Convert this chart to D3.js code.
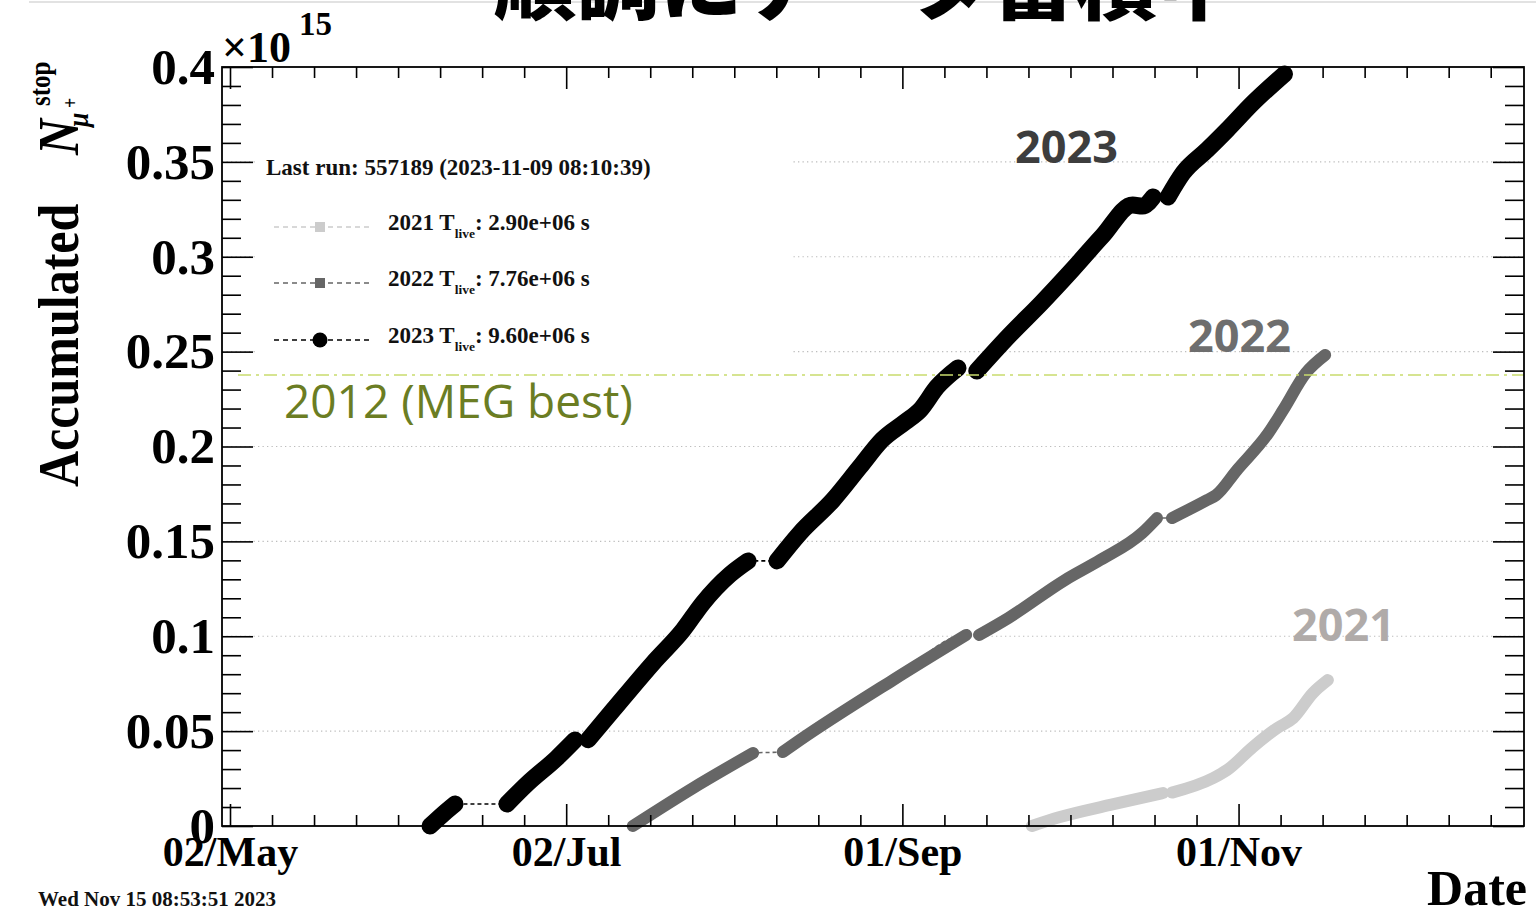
<!DOCTYPE html>
<html>
<head>
<meta charset="utf-8">
<script src="https://cdn.jsdelivr.net/npm/d3@7"></script>
<style>
  html, body { margin: 0; padding: 0; background: #fff; }
  svg { display: block; }
  .serif { font-family: "Liberation Serif", "Times New Roman", serif; font-weight: bold; }
  .sans { font-family: "Open Sans", "Noto Sans", sans-serif; }
</style>
</head>
<body>
<svg id="chart" width="1536" height="923"></svg>
<script>
// ---- Accumulated stopped muons (units of 1e15) vs calendar date, per run year ----
// Dates are "MM-DD HH:MM"; every year is laid onto the same month/day axis.
// *Breaks arrays give the indices where a new stretch of running starts.
const dates2023 = [
  "06-07 07:00", "06-09 16:00", "06-11 20:00",
  "06-21 06:00", "06-24 22:00", "06-30 07:00", "07-03 14:00",
  "07-06 00:00", "07-10 12:00", "07-17 18:00", "07-23 05:00", "07-26 19:00", "07-31 17:00", "08-04 00:00",
  "08-09 06:00", "08-13 10:00", "08-19 10:00", "08-24 07:00", "08-28 07:00", "09-01 12:00", "09-04 05:00", "09-07 07:00", "09-11 02:00",
  "09-14 12:00", "09-20 12:00", "09-26 06:00", "10-01 19:00", "10-07 07:00", "10-12 19:00", "10-14 14:00", "10-16 12:00",
  "10-19 05:00", "10-21 22:00", "10-26 07:00", "10-29 22:00", "11-03 14:00", "11-09 08:00"
];
const values2023 = [
  0.0000, 0.0063, 0.0116,
  0.0116, 0.0222, 0.0358, 0.0453,
  0.0455, 0.0611, 0.0859, 0.1033, 0.1175, 0.1325, 0.1397,
  0.1397, 0.1544, 0.1718, 0.1892, 0.2034, 0.2129, 0.2192, 0.2314, 0.2414,
  0.2398, 0.2588, 0.2757, 0.2930, 0.3109, 0.3273, 0.3267, 0.3315,
  0.3315, 0.3441, 0.3563, 0.3668, 0.3810, 0.3963
];
const breaks2023 = [3, 7, 14, 23, 31];

const dates2022 = [
  "07-14 02:00", "07-25 00:00", "08-04 22:00",
  "08-10 07:00", "08-13 10:00", "08-30 07:00", "09-12 14:00",
  "09-14 22:00", "09-20 05:00", "09-30 12:00", "10-06 22:00", "10-14 12:00", "10-17 05:00",
  "10-19 22:00", "10-26 07:00", "10-27 22:00", "10-31 17:00", "11-06 10:00", "11-09 02:00", "11-13 05:00", "11-16 17:00"
];
const values2022 = [
  0.0000, 0.0200, 0.0385,
  0.0390, 0.0453, 0.0769, 0.1007,
  0.1007, 0.1096, 0.1296, 0.1402, 0.1544, 0.1623,
  0.1623, 0.1718, 0.1744, 0.1876, 0.2071, 0.2192, 0.2387, 0.2482
];
const breaks2022 = [3, 7, 13];

const dates2021 = [
  "09-24 12:00", "09-29 14:00", "10-08 17:00", "10-18 07:00",
  "10-19 22:00", "10-27 10:00", "10-29 22:00", "11-03 14:00", "11-08 00:00", "11-10 22:00", "11-14 12:00", "11-17 05:00"
];
const values2021 = [
  0.0000, 0.0047, 0.0111, 0.0174,
  0.0176, 0.0253, 0.0295, 0.0416, 0.0516, 0.0569, 0.0701, 0.0769
];
const breaks2021 = [4];

// MEG 2012 best result, same units
const megBest = 0.2377;

// legend content
const legendYears = ["2021", "2022", "2023"];
const legendTlive = ["2.90e+06", "7.76e+06", "9.60e+06"];
const lastRun = "Last run: 557189 (2023-11-09 08:10:39)";

// axes
const xAxisStart = "04-30 13:10";
const xAxisEnd = "12-22 19:00";
const xTickDates = ["05-02 00:00", "07-02 00:00", "09-01 00:00", "11-01 00:00"];
const xTickLabels = ["02/May", "02/Jul", "01/Sep", "01/Nov"];
const yTickValues = [0, 0.05, 0.1, 0.15, 0.2, 0.25, 0.3, 0.35, 0.4];
const yTickLabels = ["0", "0.05", "0.1", "0.15", "0.2", "0.25", "0.3", "0.35", "0.4"];

// ---------------------------------------------------------------------------
const parseDate = s => d3.utcParse("%Y-%m-%d %H:%M")("2023-" + s);
const svg = d3.select("#chart");
const plot = { left: 222, right: 1524, top: 67, bottom: 826 };

const x = d3.scaleUtc()
  .domain([parseDate(xAxisStart), parseDate(xAxisEnd)])
  .range([plot.left, plot.right]);
const y = d3.scaleLinear().domain([0, 0.4]).range([plot.bottom, plot.top]);

// thin rule along the top of the page
svg.append("line")
  .attr("x1", 29).attr("x2", 1536).attr("y1", 2).attr("y2", 2)
  .attr("stroke", "#e2e2e2").attr("stroke-width", 2);

// heading (runs off the top edge)
svg.append("text")
  .attr("x", 867).attr("y", 13)
  .attr("text-anchor", "middle")
  .style("font-family", "'Noto Sans CJK JP', sans-serif")
  .style("font-weight", 900)
  .style("font-size", "83px")
  .attr("fill", "#000")
  .text("順調にデータ蓄積中");

// horizontal dotted grid at the major y ticks
svg.append("g").selectAll("line")
  .data(yTickValues.filter(v => v > 0 && v < 0.4))
  .join("line")
  .attr("x1", plot.left).attr("x2", plot.right)
  .attr("y1", d => y(d)).attr("y2", d => y(d))
  .attr("stroke", "#bdbdbd").attr("stroke-width", 1.2)
  .attr("stroke-dasharray", "1.3,3.2");

// legend panel (covers the grid behind it)
const leg = svg.append("g");
leg.append("rect")
  .attr("x", 256).attr("y", 133).attr("width", 536).attr("height", 245)
  .attr("fill", "#fff");
leg.append("text").attr("class", "serif")
  .attr("x", 266).attr("y", 175)
  .style("font-size", "23px").attr("fill", "#111")
  .text(lastRun);

const legColors = ["#cccccc", "#666666", "#000000"];
const legRowY = [227, 283, 340];
legendYears.forEach((yr, i) => {
  const ry = legRowY[i];
  leg.append("line")
    .attr("x1", 274).attr("x2", 369).attr("y1", ry).attr("y2", ry)
    .attr("stroke", legColors[i]).attr("stroke-width", 1.6)
    .attr("stroke-dasharray", "5,4");
  if (i < 2) {
    leg.append("rect")
      .attr("x", 315).attr("y", ry - 5).attr("width", 10).attr("height", 10)
      .attr("fill", legColors[i]);
  } else {
    leg.append("circle").attr("cx", 320).attr("cy", ry).attr("r", 7.5)
      .attr("fill", legColors[i]);
  }
  const t = leg.append("text").attr("class", "serif")
    .attr("x", 388).attr("y", ry + 3)
    .style("font-size", "23px").attr("fill", "#111");
  t.append("tspan").text(yr + " T");
  t.append("tspan").attr("dy", 8).style("font-size", "13.5px").text("live");
  t.append("tspan").attr("dy", -8).text(": " + legendTlive[i] + " s");
});

// ---- series ----
function drawSeries(dates, values, breaks, color, width) {
  const pts = dates.map((d, i) => ({ t: parseDate(d), v: values[i] }));
  const line = d3.line().x(p => x(p.t)).y(p => y(p.v)).curve(d3.curveMonotoneX);
  const g = svg.append("g");
  // dashed connecting line through all points
  g.append("path")
    .attr("d", line(pts))
    .attr("fill", "none").attr("stroke", color)
    .attr("stroke-width", 1.6).attr("stroke-dasharray", "4,3");
  // dense markers form a solid band over each stretch of running
  const bounds = [0, ...breaks, pts.length];
  for (let k = 0; k < bounds.length - 1; k++) {
    const seg = pts.slice(bounds[k], bounds[k + 1]);
    g.append("path")
      .attr("d", line(seg))
      .attr("fill", "none").attr("stroke", color)
      .attr("stroke-width", width)
      .attr("stroke-linecap", "round").attr("stroke-linejoin", "round");
  }
}
drawSeries(dates2021, values2021, breaks2021, "#cccccc", 12);
drawSeries(dates2022, values2022, breaks2022, "#666666", 12);
drawSeries(dates2023, values2023, breaks2023, "#000000", 17);

// MEG best reference line
svg.append("line")
  .attr("x1", 238).attr("x2", plot.right)
  .attr("y1", y(megBest)).attr("y2", y(megBest))
  .attr("stroke", "#c9dc6e").attr("stroke-width", 1.6)
  .attr("stroke-dasharray", "13,5,3,5");
svg.append("text").attr("class", "sans")
  .attr("x", 284).attr("y", 418)
  .style("font-size", "46px").attr("fill", "#6b7d23")
  .text("2012 (MEG best)");

// year annotations
const yearNotes = [
  { text: "2023", x: 1015, y: 163, color: "#3d3d3d" },
  { text: "2022", x: 1188, y: 352, color: "#6e6e6e" },
  { text: "2021", x: 1292, y: 641, color: "#b0aba9" }
];
svg.append("g").selectAll("text").data(yearNotes).join("text")
  .attr("class", "sans")
  .attr("x", d => d.x).attr("y", d => d.y)
  .style("font-size", "45px").style("font-weight", 700)
  .attr("fill", d => d.color)
  .text(d => d.text);

// ---- axes: ticks point into the frame on all four sides ----
const yMinor = d3.range(0, 41).filter(i => i % 5 !== 0).map(i => i * 0.01);
const xMajor = xTickDates.map(parseDate);
const minorStep = 61 * 24 / 8; // hours
const xMinor = d3.range(-2, 40)
  .map(k => d3.utcHour.offset(xMajor[0], k * minorStep))
  .filter(d => d >= x.domain()[0] && d <= x.domain()[1])
  .filter(d => !xMajor.some(m => Math.abs(m - d) < 3600e3));

function tickAxis(axis, tx, ty) {
  const g = svg.append("g").attr("transform", `translate(${tx},${ty})`).call(axis);
  g.select(".domain").remove();
  g.selectAll("line").attr("stroke", "#000").attr("stroke-width", 1.6);
  return g;
}
tickAxis(d3.axisRight(y).tickValues(yTickValues).tickSize(31).tickFormat(""), plot.left, 0);
tickAxis(d3.axisRight(y).tickValues(yMinor).tickSize(19).tickFormat(""), plot.left, 0);
tickAxis(d3.axisLeft(y).tickValues(yTickValues).tickSize(31).tickFormat(""), plot.right, 0);
tickAxis(d3.axisLeft(y).tickValues(yMinor).tickSize(19).tickFormat(""), plot.right, 0);
tickAxis(d3.axisTop(x).tickValues(xMajor).tickSize(22).tickFormat(""), 0, plot.bottom);
tickAxis(d3.axisTop(x).tickValues(xMinor).tickSize(11).tickFormat(""), 0, plot.bottom);
tickAxis(d3.axisBottom(x).tickValues(xMajor).tickSize(22).tickFormat(""), 0, plot.top);
tickAxis(d3.axisBottom(x).tickValues(xMinor).tickSize(11).tickFormat(""), 0, plot.top);

// frame
svg.append("rect")
  .attr("x", plot.left).attr("y", plot.top)
  .attr("width", plot.right - plot.left).attr("height", plot.bottom - plot.top)
  .attr("fill", "none").attr("stroke", "#000").attr("stroke-width", 1.8);

// tick labels
const yLab = svg.append("g").attr("transform", `translate(${plot.left},0)`)
  .call(d3.axisLeft(y).tickValues(yTickValues).tickSize(0).tickPadding(7)
    .tickFormat((d, i) => yTickLabels[i]));
yLab.select(".domain").remove();
yLab.selectAll("text").attr("class", "serif").style("font-size", "51px").attr("fill", "#000");

const xLab = svg.append("g").attr("transform", `translate(0,${plot.bottom})`)
  .call(d3.axisBottom(x).tickValues(xMajor).tickSize(0).tickPadding(10)
    .tickFormat((d, i) => xTickLabels[i]));
xLab.select(".domain").remove();
xLab.selectAll("text").attr("class", "serif").style("font-size", "42px").attr("fill", "#000");

// exponent
svg.append("text").attr("class", "serif").attr("x", 222).attr("y", 62)
  .style("font-size", "44px").attr("fill", "#000").text("×10");
svg.append("text").attr("class", "serif").attr("x", 299).attr("y", 35)
  .style("font-size", "33px").attr("fill", "#000").text("15");

// axis titles
svg.append("text").attr("class", "serif")
  .attr("x", 1527).attr("y", 905).attr("text-anchor", "end")
  .style("font-size", "50px").attr("fill", "#000").text("Date");

const yt = svg.append("g").attr("transform", "translate(78,487) rotate(-90) scale(1,1.15)");
yt.append("text").attr("class", "serif").attr("x", 0).attr("y", 0)
  .style("font-size", "50px").attr("fill", "#000").text("Accumulated");
yt.append("text").attr("class", "serif").attr("x", 332).attr("y", 0)
  .style("font-size", "50px").style("font-style", "italic").attr("fill", "#000").text("N");
yt.append("text").attr("class", "serif").attr("x", 381).attr("y", -24)
  .style("font-size", "25px").attr("fill", "#000").text("stop");
yt.append("text").attr("class", "serif").attr("x", 360).attr("y", 9)
  .style("font-size", "26px").style("font-style", "italic").attr("fill", "#000").text("μ");
yt.append("text").attr("class", "serif").attr("x", 379).attr("y", -1)
  .style("font-size", "18px").attr("fill", "#000").text("+");

// print timestamp
svg.append("text").attr("class", "serif")
  .attr("x", 38).attr("y", 906)
  .style("font-size", "21px").attr("fill", "#111")
  .text("Wed Nov 15 08:53:51 2023");
</script>
</body>
</html>
